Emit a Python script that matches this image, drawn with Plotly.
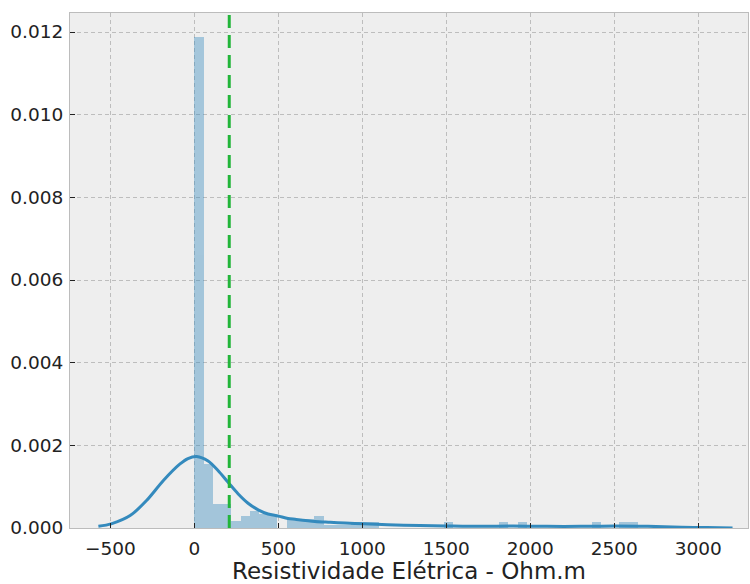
import plotly.graph_objects as go

# Histogram (density): 48 bins of width 55 starting at 0
bin_start = 0.0
bin_width = 55.0
hist_density = [
    0.01187, 0.00156, 0.00058, 0.00058, 0.00016, 0.00028, 0.00041, 0.00033,
    0.00033, 0.0, 0.00022, 0.00022, 0.00022, 0.00028, 0.00008, 0.00008,
    0.00008, 0.00015, 0.00015, 0.00015, 0.0, 0.0, 0.0, 0.0,
    0.0, 0.0, 0.0, 0.00015, 0.0, 0.0, 0.0, 0.0,
    0.0, 0.00015, 0.0, 0.00015, 0.0, 0.0, 0.0, 0.0,
    0.0, 0.0, 0.0, 0.00015, 0.0, 0.0, 0.00015, 0.00015,
]

# KDE curve points
kde_x = [-571, -495, -382, -283, -184, -85, -38, 14, 82, 141, 200, 260, 320,
         380, 439, 498, 558, 600, 718, 808, 897, 1006, 1150, 1343, 1500, 1700,
         1900, 2100, 2300, 2500, 2700, 2900, 3050, 3204]
kde_y = [0.00004, 0.0001, 0.0003, 0.00067, 0.00115, 0.00155, 0.00168, 0.00173,
         0.00162, 0.00139, 0.00111, 0.00083, 0.0006, 0.00044, 0.00034, 0.00029,
         0.00023, 0.00021, 0.00016, 0.00014, 0.00012, 0.0001, 0.00008, 0.00006,
         0.00005, 0.00004, 0.00005, 0.00004, 0.00004, 0.00005, 0.00004, 0.00002,
         0.00001, 0.0]

vline_x = 208

x_ticks = [-500, 0, 500, 1000, 1500, 2000, 2500, 3000]
y_ticks = [0.000, 0.002, 0.004, 0.006, 0.008, 0.010, 0.012]
x_title = "Resistividade Elétrica - Ohm.m"

bin_centers = [bin_start + bin_width * (i + 0.5) for i in range(len(hist_density))]

fig = go.Figure()
fig.add_trace(go.Bar(
    x=bin_centers, y=hist_density, width=bin_width,
    marker=dict(color="#348ABD", line=dict(width=0)), opacity=0.4,
    showlegend=False, hoverinfo="skip",
))
fig.add_trace(go.Scatter(
    x=kde_x, y=kde_y, mode="lines",
    line=dict(color="#348ABD", width=3, shape="spline", smoothing=0.8),
    showlegend=False,
))
fig.add_shape(type="line", xref="x", yref="paper", x0=vline_x, x1=vline_x, y0=0, y1=1,
              line=dict(color="#22b53a", width=3, dash="13px,7px"))

fig.update_layout(
    width=750, height=584,
    margin=dict(l=70, r=2, t=13, b=56),
    paper_bgcolor="white", plot_bgcolor="#eeeeee",
    bargap=0,
    font=dict(family="DejaVu Sans", color="#222222"),
)
grid_kw = dict(showgrid=True, gridcolor="#bdbdbd", griddash="4px,3px", gridwidth=0.8,
               ticks="inside", ticklen=5, tickcolor="#222222", tickwidth=1,
               showline=True, linecolor="#bcbcbc", linewidth=1, mirror=True,
               zeroline=False, automargin=False)
fig.update_xaxes(
    range=[-740, 3296], tickvals=x_ticks,
    ticktext=[str(v).replace("-", "\u2212") for v in x_ticks],
    tickfont=dict(size=18.5, color="#222222"), ticklabelstandoff=4,
    title=dict(text=x_title, font=dict(size=23, color="#222222"), standoff=8),
    **grid_kw,
)
fig.update_yaxes(
    range=[0, 0.01246], tickvals=y_ticks, tickformat=".3f",
    tickfont=dict(size=18.5, color="#222222"), ticklabelstandoff=2,
    **grid_kw,
)

fig.write_html("out.html", config={"displayModeBar": False},
               post_script="document.body.style.margin='0';document.body.style.overflow='hidden';")
